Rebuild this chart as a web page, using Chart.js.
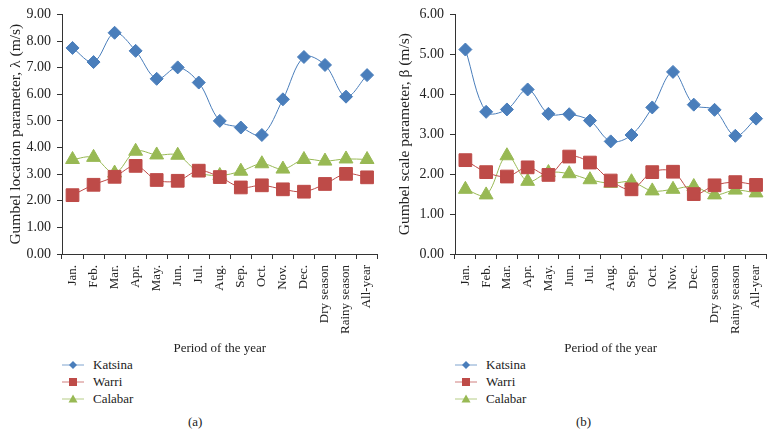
<!DOCTYPE html>
<html>
<head>
<meta charset="utf-8">
<script src="https://cdn.jsdelivr.net/npm/chart.js@4.4.0/dist/chart.umd.min.js"></script>
<style>
  body { margin: 0; background: #fff; font-family: "Liberation Serif", serif; }
  .panel { position: absolute; top: 0; width: 389px; height: 437px; }
  .legend { position: absolute; font-size: 13px; color: #222; }
  .legend div { height: 17px; line-height: 17px; display: flex; align-items: center; }
  .legend svg { margin-right: 9px; }
  .caption { position: absolute; top: 414px; font-size: 13px; color: #222; }
</style>
</head>
<body>
<div class="panel" style="left:0">
  <canvas id="chartA" width="389" height="356"></canvas>
  <div class="legend" id="legendA" style="left:62px; top:356px"></div>
  <div class="caption" style="left:188px">(a)</div>
</div>
<div class="panel" style="left:389px">
  <canvas id="chartB" width="389" height="356"></canvas>
  <div class="legend" id="legendB" style="left:66px; top:356px"></div>
  <div class="caption" style="left:187px">(b)</div>
</div>
<script>
const categories = ['Jan.', 'Feb.', 'Mar.', 'Apr.', 'May.', 'Jun.', 'Jul.', 'Aug.', 'Sep.', 'Oct.', 'Nov.', 'Dec.', 'Dry season', 'Rainy season', 'All-year'];
const stations = ['Katsina', 'Warri', 'Calabar'];

// (a) location parameter
const katsinaLocation = [7.74, 7.21, 8.31, 7.63, 6.58, 7.01, 6.44, 5.0, 4.75, 4.47, 5.81, 7.4, 7.1, 5.91, 6.72];
const warriLocation = [2.21, 2.6, 2.9, 3.31, 2.78, 2.75, 3.13, 2.89, 2.5, 2.58, 2.43, 2.34, 2.63, 3.01, 2.88];
const calabarLocation = [3.55, 3.63, 3.04, 3.86, 3.72, 3.71, 3.07, 2.95, 3.11, 3.39, 3.19, 3.55, 3.49, 3.57, 3.55];

// (b) scale parameter
const katsinaScale = [5.12, 3.56, 3.62, 4.12, 3.51, 3.5, 3.34, 2.82, 2.98, 3.67, 4.56, 3.74, 3.61, 2.96, 3.39];
const warriScale = [2.35, 2.05, 1.94, 2.17, 1.98, 2.44, 2.29, 1.84, 1.62, 2.05, 2.06, 1.5, 1.72, 1.8, 1.73];
const calabarScale = [1.62, 1.48, 2.46, 1.82, 2.04, 2.01, 1.86, 1.77, 1.81, 1.58, 1.62, 1.69, 1.48, 1.6, 1.53];

const colors = ['#4A7EBB', '#BE4B48', '#98B954'];
const shapes = ['rectRot', 'rect', 'triangle'];
const radii = [6.5, 9, 8];
const serif = '"Liberation Serif", serif';

function buildDatasets(series) {
    return series.map((values, i) => ({
        label: stations[i],
        data: values,
        borderColor: colors[i],
        backgroundColor: colors[i],
        borderWidth: 1,
        pointStyle: shapes[i],
        pointRadius: radii[i],
        pointBorderWidth: 1,
        pointBorderColor: colors[i],
        tension: 0.35,
    }));
}

function makeChart(id, series, yMax, yTitle, yWidth, padRight) {
    const ctx = document.getElementById(id).getContext('2d');
    return new Chart(ctx, {
        type: 'line',
        data: { labels: categories, datasets: buildDatasets(series) },
        options: {
            animation: false,
            responsive: false,
            layout: { padding: { top: 14, right: padRight, left: 0, bottom: 0 } },
            plugins: { legend: { display: false }, tooltip: { enabled: false } },
            scales: {
                x: {
                    offset: true,
                    afterFit: (scale) => { scale.height = 102; },
                    grid: { display: true, offset: true, drawOnChartArea: false, drawTicks: true, tickLength: 5, color: '#333' },
                    border: { color: '#333', width: 1 },
                    ticks: { minRotation: 90, maxRotation: 90, autoSkip: false, color: '#222', padding: 6, font: { family: serif, size: 13 } },
                    title: { display: true, text: 'Period of the year', color: '#222', padding: { top: 4, bottom: 0 }, font: { family: serif, size: 13 } },
                },
                y: {
                    min: 0,
                    max: yMax,
                    afterFit: (scale) => { scale.width = yWidth; },
                    grid: { display: true, drawOnChartArea: false, drawTicks: true, tickLength: 5, color: '#333' },
                    border: { color: '#333', width: 1 },
                    ticks: { stepSize: 1, color: '#222', padding: 6, font: { family: serif, size: 14 }, callback: (v) => v.toFixed(2) },
                    title: { display: true, text: yTitle, color: '#222', padding: { top: 7, bottom: 0 }, font: { family: serif, size: 15.5 } },
                },
            },
        },
    });
}

function legendHtml(el) {
    const icons = [
        '<polygon points="11,3 15,7 11,11 7,7" />',
        '<rect x="7" y="3" width="8" height="8" />',
        '<polygon points="11,2.5 15.5,10.5 6.5,10.5" />',
    ];
    el.innerHTML = stations.map((name, i) =>
        `<div><svg width="22" height="14"><line x1="0" y1="7" x2="22" y2="7" stroke="${colors[i]}" stroke-width="1" opacity="0.7"/>` +
        `<g fill="${colors[i]}">${icons[i]}</g></svg>${name}</div>`
    ).join('');
}

makeChart('chartA', [katsinaLocation, warriLocation, calabarLocation], 9, 'Gumbel location parameter, λ (m/s)', 62, 3);
makeChart('chartB', [katsinaScale, warriScale, calabarScale], 6, 'Gumbel scale parameter, β (m/s)', 66, 9);
legendHtml(document.getElementById('legendA'));
legendHtml(document.getElementById('legendB'));
</script>
</body>
</html>
